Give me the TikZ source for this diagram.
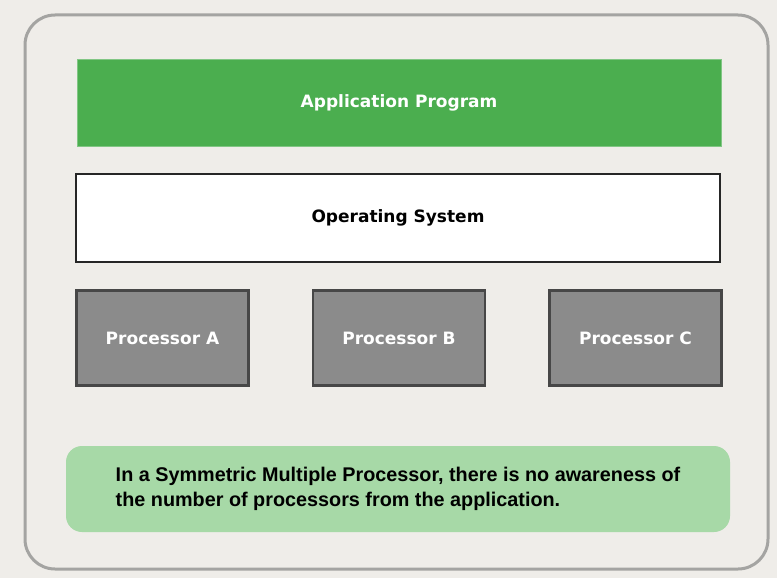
\documentclass[tikz,border=0pt]{standalone}
\usepackage{fontspec}
\setmainfont{Liberation Sans}
\newfontfamily\labelfont{DejaVu Sans}
\usepackage{tikz}
\usetikzlibrary{positioning}
\definecolor{bgPaper}{HTML}{EFEDE9}
\definecolor{frameGray}{HTML}{A4A4A2}
\definecolor{appGreen}{HTML}{4BAE4F}
\definecolor{noteGreen}{HTML}{A7D9A7}
\definecolor{procGray}{HTML}{8B8B8B}
\definecolor{procEdge}{HTML}{474747}

\begin{document}
\begin{tikzpicture}[x=1pt, y=-1pt,
    layer/.style={rectangle, minimum width=644pt, minimum height=87pt, inner sep=0pt,
        font=\labelfont\bfseries\fontsize{17}{20}\selectfont},
    procbox/.style={rectangle, fill=procGray, draw=procEdge, line width=2.5pt,
        minimum width=172pt, minimum height=95pt, inner sep=0pt, text=white,
        font=\labelfont\bfseries\fontsize{17}{20}\selectfont}]
    % Paper and outer frame
    \useasboundingbox (0,0) rectangle (777,578);
    \fill[bgPaper] (0,0) rectangle (777,578);
    \draw[frameGray, line width=3pt, rounded corners=30pt] (25,15) rectangle (768,569);
    % Layers
    \node[layer, fill=appGreen, draw=appGreen!70!white, line width=1pt, text=white] (app) at (399,103) {Application Program};
    \node[layer, fill=white, draw=black!85, line width=2pt, minimum height=88pt] (os) at (398,217.5) {Operating System};
    % Processors
    \node[procbox] (procB) at (399,338) {Processor B};
    \node[procbox, left=62pt of procB] (procA) {Processor A};
    \node[procbox, right=62pt of procB] (procC) {Processor C};
    % Note
    \node[rectangle, fill=noteGreen, rounded corners=16pt, minimum width=664pt, minimum height=86pt,
        align=left, font=\bfseries\fontsize{19.8}{25}\selectfont] (note) at (398,489)
        {In a Symmetric Multiple Processor, there is no awareness of\\the number of processors from the application.};
\end{tikzpicture}
\end{document}
